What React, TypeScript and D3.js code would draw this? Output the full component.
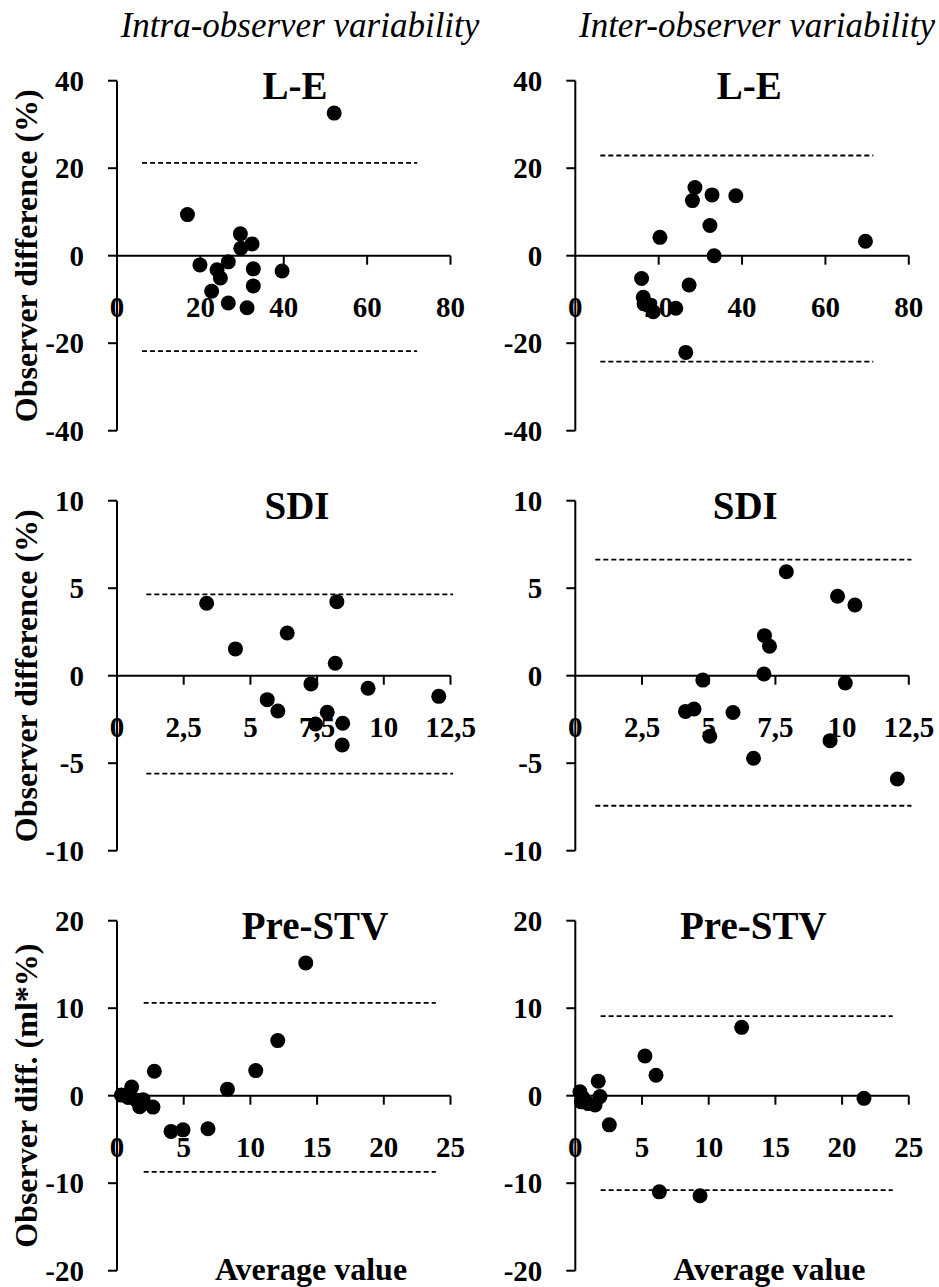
import React from "react";
import * as d3 from "d3";

// ---- Data ----
const leIntraX = [52.1, 16.9, 19.9, 22.7, 24.0, 24.8, 26.7, 26.7, 29.6, 29.7, 32.4, 31.2, 32.7, 32.7, 39.6];
const leIntraY = [32.6, 9.4, -2.1, -8.1, -3.2, -5.1, -1.4, -10.8, 5.0, 1.7, 2.7, -11.9, -3.0, -6.9, -3.5];
const leInterX = [69.6, 20.3, 28.7, 28.1, 32.8, 38.5, 32.3, 33.3, 15.9, 16.3, 16.5, 17.4, 18.7, 24.1, 27.3, 26.5];
const leInterY = [3.3, 4.2, 15.6, 12.6, 13.9, 13.7, 6.9, 0.0, -5.2, -9.5, -11.0, -11.3, -12.8, -12.0, -6.7, -22.1];

const sdiIntraX = [3.36, 4.44, 6.38, 8.24, 8.18, 7.27, 5.63, 6.03, 7.44, 7.88, 8.46, 8.44, 9.41, 12.06];
const sdiIntraY = [4.14, 1.53, 2.44, 4.23, 0.71, -0.47, -1.37, -2.02, -2.76, -2.09, -2.72, -3.96, -0.72, -1.18];
const sdiInterX = [7.91, 9.83, 10.48, 7.09, 7.28, 7.07, 4.78, 10.12, 4.13, 4.45, 5.91, 5.04, 9.55, 6.68, 12.07];
const sdiInterY = [5.94, 4.54, 4.04, 2.29, 1.68, 0.1, -0.25, -0.42, -2.04, -1.9, -2.1, -3.46, -3.71, -4.72, -5.9];

const stvIntraX = [14.15, 12.05, 10.4, 8.28, 2.8, 6.82, 4.95, 4.05, 1.1, 0.33, 0.83, 1.45, 1.7, 1.95, 2.7];
const stvIntraY = [15.18, 6.3, 2.87, 0.75, 2.79, -3.78, -3.9, -4.08, 1.0, 0.07, -0.2, -0.5, -1.25, -0.45, -1.3];
const stvInterX = [12.47, 5.22, 6.05, 21.64, 1.72, 1.85, 2.55, 6.3, 9.35, 0.35, 0.6, 0.97, 1.48, 0.45];
const stvInterY = [7.81, 4.53, 2.34, -0.3, 1.66, -0.1, -3.33, -10.99, -11.44, 0.45, -0.3, -0.9, -1.06, -0.7];

// limits of agreement [upper, lower] and their x extent [start, end]
const leIntraLimits = [21.2, -21.8];
const leIntraLimitX = [6, 72];
const leInterLimits = [22.9, -24.2];
const leInterLimitX = [6, 71.5];
const sdiIntraLimits = [4.65, -5.6];
const sdiIntraLimitX = [1.1, 12.6];
const sdiInterLimits = [6.63, -7.43];
const sdiInterLimitX = [0.75, 12.6];
const stvIntraLimits = [10.6, -8.7];
const stvIntraLimitX = [2.0, 23.9];
const stvInterLimits = [9.1, -10.8];
const stvInterLimitX = [1.9, 23.8];

// ticks
const leXTicks = [0, 20, 40, 60, 80];
const leYTicks = [-40, -20, 0, 20, 40];
const sdiXTicks = [0, 2.5, 5, 7.5, 10, 12.5];
const sdiYTicks = [-10, -5, 0, 5, 10];
const stvXTicks = [0, 5, 10, 15, 20, 25];
const stvYTicks = [-20, -10, 0, 10, 20];

const columnTitles = ["Intra-observer variability", "Inter-observer variability"];
const rowTitles = ["L-E", "SDI", "Pre-STV"];
const yLabels = ["Observer difference (%)", "Observer difference (%)", "Observer diff. (ml*%)"];
const xLabel = "Average value";

const FONT = "'Liberation Serif', 'Times New Roman', serif";

const fmt = (v: number) => String(v).replace(".", ",");

type PanelProps = {
  left: number;
  top: number;
  xs: number[];
  ys: number[];
  limits: number[];
  limitX: number[];
  xTicks: number[];
  yTicks: number[];
  title: string;
  titleDx: number;
  yLabel?: string;
  xLabelText?: string;
};

const PW = 333.5;
const PH = 350;
const TICK_FS = 29;

function Panel(p: PanelProps) {
  const x = d3.scaleLinear().domain([p.xTicks[0], p.xTicks[p.xTicks.length - 1]]).range([p.left, p.left + PW]);
  const y = d3.scaleLinear().domain([p.yTicks[0], p.yTicks[p.yTicks.length - 1]]).range([p.top + PH, p.top]);
  const y0 = y(0);
  return (
    <g>
      {/* y axis */}
      <line x1={p.left} x2={p.left} y1={y(p.yTicks[0])} y2={y(p.yTicks[p.yTicks.length - 1])} stroke="#000" strokeWidth={2} />
      {p.yTicks.map((t) => (
        <g key={"yt" + t}>
          <line x1={p.left - 9} x2={p.left} y1={y(t)} y2={y(t)} stroke="#000" strokeWidth={2} />
          <text x={p.left - 33} y={y(t)} dy="0.35em" textAnchor="end" fontFamily={FONT} fontWeight="bold" fontSize={TICK_FS}>
            {fmt(t)}
          </text>
        </g>
      ))}
      {/* x axis at zero */}
      <line x1={p.left} x2={x(p.xTicks[p.xTicks.length - 1])} y1={y0} y2={y0} stroke="#000" strokeWidth={2} />
      {p.xTicks.map((t) => (
        <g key={"xt" + t}>
          {t !== 0 && <line x1={x(t)} x2={x(t)} y1={y0} y2={y0 + 9} stroke="#000" strokeWidth={2} />}
          <text x={x(t)} y={y0 + 51} dy="0.35em" textAnchor="middle" fontFamily={FONT} fontWeight="bold" fontSize={TICK_FS}>
            {fmt(t)}
          </text>
        </g>
      ))}
      {/* limits of agreement */}
      {p.limits.map((l, i) => (
        <line key={"lim" + i} x1={x(p.limitX[0])} x2={x(p.limitX[1])} y1={y(l)} y2={y(l)} stroke="#000" strokeWidth={1.8} strokeDasharray="5,3" />
      ))}
      {/* points */}
      {p.xs.map((v, i) => (
        <circle key={"pt" + i} cx={x(v)} cy={y(p.ys[i])} r={7.5} fill="#000" />
      ))}
      {/* title */}
      <text x={p.left + p.titleDx} y={p.top + 18} textAnchor="middle" fontFamily={FONT} fontWeight="bold" fontSize={39}>
        {p.title}
      </text>
      {p.yLabel && (
        <text
          transform={`translate(${p.left - 80},${p.top + PH / 2}) rotate(-90)`}
          textAnchor="middle"
          fontFamily={FONT}
          fontWeight="bold"
          fontSize={32}
        >
          {p.yLabel}
        </text>
      )}
      {p.xLabelText && (
        <text x={p.left + 194} y={p.top + PH + 9} textAnchor="middle" fontFamily={FONT} fontWeight="bold" fontSize={32}>
          {p.xLabelText}
        </text>
      )}
    </g>
  );
}

export default function App() {
  const cols = [117, 575.3];
  const rows = [80.7, 500.7, 920.7];
  return (
    <svg width={939} height={1287} style={{ position: "absolute", left: 0, top: 0, background: "#fff" }}>
      <rect x={0} y={0} width={939} height={1287} fill="#fff" />
      <text x={300} y={37} textAnchor="middle" fontFamily={FONT} fontStyle="italic" fontSize={35}>
        {columnTitles[0]}
      </text>
      <text x={757} y={37} textAnchor="middle" fontFamily={FONT} fontStyle="italic" fontSize={35}>
        {columnTitles[1]}
      </text>
      <Panel left={cols[0]} top={rows[0]} xs={leIntraX} ys={leIntraY} limits={leIntraLimits} limitX={leIntraLimitX}
        xTicks={leXTicks} yTicks={leYTicks} title={rowTitles[0]} titleDx={178} yLabel={yLabels[0]} />
      <Panel left={cols[1]} top={rows[0]} xs={leInterX} ys={leInterY} limits={leInterLimits} limitX={leInterLimitX}
        xTicks={leXTicks} yTicks={leYTicks} title={rowTitles[0]} titleDx={174} />
      <Panel left={cols[0]} top={rows[1]} xs={sdiIntraX} ys={sdiIntraY} limits={sdiIntraLimits} limitX={sdiIntraLimitX}
        xTicks={sdiXTicks} yTicks={sdiYTicks} title={rowTitles[1]} titleDx={180} yLabel={yLabels[1]} />
      <Panel left={cols[1]} top={rows[1]} xs={sdiInterX} ys={sdiInterY} limits={sdiInterLimits} limitX={sdiInterLimitX}
        xTicks={sdiXTicks} yTicks={sdiYTicks} title={rowTitles[1]} titleDx={170} />
      <Panel left={cols[0]} top={rows[2]} xs={stvIntraX} ys={stvIntraY} limits={stvIntraLimits} limitX={stvIntraLimitX}
        xTicks={stvXTicks} yTicks={stvYTicks} title={rowTitles[2]} titleDx={198} yLabel={yLabels[2]} xLabelText={xLabel} />
      <Panel left={cols[1]} top={rows[2]} xs={stvInterX} ys={stvInterY} limits={stvInterLimits} limitX={stvInterLimitX}
        xTicks={stvXTicks} yTicks={stvYTicks} title={rowTitles[2]} titleDx={178} xLabelText={xLabel} />
    </svg>
  );
}
